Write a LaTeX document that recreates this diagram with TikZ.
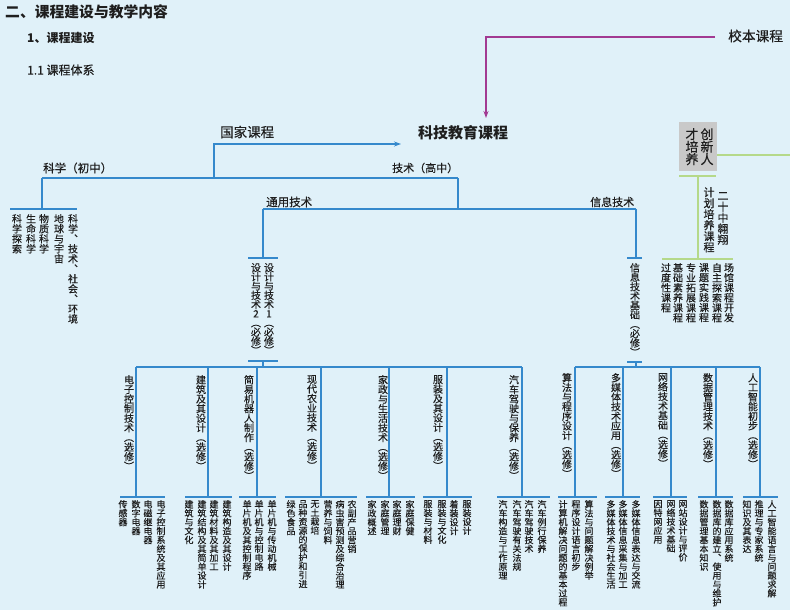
\documentclass[tikz,border=0pt]{standalone}
\usepackage{fontspec}
\setmainfont{Noto Sans CJK SC}[UprightFeatures={FakeBold=0.35}]
\usetikzlibrary{arrows.meta}
\definecolor{bg}{HTML}{E0F1F9}
\definecolor{lineblue}{HTML}{3589CC}
\definecolor{linemag}{HTML}{A23A92}
\definecolor{linegreen}{HTML}{B5D98A}
\definecolor{boxgray}{HTML}{C9C9C9}
\definecolor{ink}{HTML}{1E1E1E}
\ExplSyntaxOn
\bool_new:N \l_vc_first_bool
\NewDocumentCommand\vcol{m}
  {
    \bool_set_true:N \l_vc_first_bool
    \tl_map_inline:nn {#1}
      {
        \bool_if:NTF \l_vc_first_bool
          { \bool_set_false:N \l_vc_first_bool }
          { \\ }
        ##1
      }
  }
\ExplSyntaxOff
\begin{document}
\begin{tikzpicture}[x=1pt,y=-1pt,
  bl/.style={draw=lineblue,line width=1.1pt},
  mg/.style={draw=linemag,line width=1.1pt},
  gr/.style={draw=linegreen,line width=1.1pt},
  hlab/.style={inner sep=0pt,anchor=west,text=ink},
  vlab/.style={inner sep=0pt,anchor=north,align=center,text=ink,font=\fontsize{10}{9.6}\selectfont},
  leaf/.style={vlab,font=\fontsize{9}{8.9}\selectfont}]
\fill[bg] (0,0) rectangle (790,610);
\useasboundingbox (0,0) rectangle (790,610);
\node[hlab,font=\bfseries\fontsize{14.8}{15}\selectfont] (title) at (5,12) {二、课程建设与教学内容};
\node[hlab,font=\bfseries\fontsize{12}{12}\selectfont] (sec) at (27,38) {1、课程建设};
\node[hlab,font=\fontsize{12}{12}\selectfont] (subsec) at (27,70) {1.1 课程体系};
\node[hlab,font=\bfseries\fontsize{15}{15}\selectfont] (kj) at (418,133) {科技教育课程};
\node[hlab,font=\fontsize{13.7}{14}\selectfont] (xb) at (728,36) {校本课程};
\node[hlab,font=\fontsize{13.5}{14}\selectfont] (gj) at (220,132) {国家课程};
\node[hlab,font=\fontsize{11.5}{12}\selectfont] (kx) at (43,168) {科学（初中）};
\node[hlab,font=\fontsize{11}{12}\selectfont] (js) at (392,168) {技术（高中）};
\node[hlab,font=\fontsize{11.5}{12}\selectfont] (ty) at (266,202) {通用技术};
\node[hlab,font=\fontsize{11}{12}\selectfont] (xx) at (590,202) {信息技术};
\coordinate (xbL) at (715,37);
\coordinate (kjT) at (486,118);
\draw[mg,-{Stealth[length=7pt,width=5pt]}] (xbL) -| (kjT);
\coordinate (gjA) at (401,144);
\coordinate (kxJ) at (42,178);
\coordinate (gjJ) at (214,178);
\coordinate (jsJ) at (458,178);
\draw[bl,-{Stealth[length=7pt,width=5pt]}] (gjJ) |- (gjA);
\draw[bl] (kxJ) -- (jsJ);
\coordinate (kxB) at (42,209);
\draw[bl] (kxJ) -- (kxB);
\draw[bl] ([xshift=-32pt]kxB) -- ([xshift=35pt]kxB);
\node[vlab,font=\fontsize{10}{10}\selectfont] (sc1) at (17,214) {\vcol{科学探索}};
\node[vlab,font=\fontsize{10}{10}\selectfont] (sc2) at (31,214) {\vcol{生命科学}};
\node[vlab,font=\fontsize{10}{10}\selectfont] (sc3) at (44,214) {\vcol{物质科学}};
\node[vlab,font=\fontsize{10}{10}\selectfont] (sc4) at (59,214) {\vcol{地球与宇宙}};
\node[vlab,font=\fontsize{10}{10}\selectfont] (sc5) at (73,214) {\vcol{科学︑技术︑社会︑环境}};
\coordinate (jsB) at (458,209);
\coordinate (tyJ) at (263,209);
\coordinate (xxJ) at (636,209);
\draw[bl] (jsJ) -- (jsB);
\draw[bl] (tyJ) -- (xxJ);
\coordinate (tyB) at (263,258);
\draw[bl] (tyJ) -- (tyB);
\draw[bl] ([xshift=-15pt]tyB) -- ([xshift=15pt]tyB);
\node[vlab,font=\fontsize{10}{9.2}\selectfont] (dt2) at (256,263) {\vcol{设计与技术2︵必修︶}};
\node[vlab,font=\fontsize{10}{9.2}\selectfont] (dt1) at (269,263) {\vcol{设计与技术1︵必修︶}};
\coordinate (tyC) at (263,361);
\coordinate (tyD) at (263,367);
\draw[bl] ([xshift=-15pt]tyC) -- ([xshift=15pt]tyC);
\draw[bl] (tyC) -- (tyD);
\coordinate (ecJ) at (136,367);
\coordinate (jzJ) at (208,367);
\coordinate (jqJ) at (257,367);
\coordinate (nyJ) at (321,367);
\coordinate (jtJ) at (389,367);
\coordinate (fzJ) at (447,367);
\coordinate (qcJ) at (522,367);
\draw[bl] (ecJ) -- (qcJ);
\coordinate (ecB) at (136,497);
\coordinate (jzB) at (208,497);
\coordinate (jqB) at (257,497);
\coordinate (nyB) at (321,497);
\coordinate (jtB) at (389,497);
\coordinate (fzB) at (447,497);
\coordinate (qcB) at (522,497);
\draw[bl] (ecJ) -- (ecB);
\draw[bl] (jzJ) -- (jzB);
\draw[bl] (jqJ) -- (jqB);
\draw[bl] (nyJ) -- (nyB);
\draw[bl] (jtJ) -- (jtB);
\draw[bl] (fzJ) -- (fzB);
\draw[bl] (qcJ) -- (qcB);
\draw[bl] ([xshift=-16pt]ecB) -- ([xshift=29pt]ecB);
\draw[bl] ([xshift=-23pt]jzB) -- ([xshift=24pt]jzB);
\draw[bl] ([xshift=-18pt]jqB) -- ([xshift=19pt]jqB);
\draw[bl] ([xshift=-36pt]nyB) -- ([xshift=36pt]nyB);
\draw[bl] ([xshift=-23pt]jtB) -- ([xshift=26pt]jtB);
\draw[bl] ([xshift=-24pt]fzB) -- ([xshift=25pt]fzB);
\draw[bl] ([xshift=-25pt]qcB) -- ([xshift=28pt]qcB);
\node[vlab] (mec) at (129,375) {\vcol{电子控制技术︵选修︶}};
\node[vlab] (mjz) at (201,375) {\vcol{建筑及其设计︵选修︶}};
\node[vlab] (mjq) at (249,375) {\vcol{简易机器人制作︵选修︶}};
\node[vlab] (mny) at (312,375) {\vcol{现代农业技术︵选修︶}};
\node[vlab] (mjt) at (383,375) {\vcol{家政与生活技术︵选修︶}};
\node[vlab] (mfz) at (438,375) {\vcol{服装及其设计︵选修︶}};
\node[vlab] (mqc) at (514,375) {\vcol{汽车驾驶与保养︵选修︶}};
\node[leaf] (ec1) at (123,500) {\vcol{传感器}};
\node[leaf] (ec2) at (136,500) {\vcol{数字电器}};
\node[leaf] (ec3) at (148,500) {\vcol{电磁继电器}};
\node[leaf] (ec4) at (161,500) {\vcol{电子控制系统及其应用}};
\node[leaf] (jz1) at (189,500) {\vcol{建筑与文化}};
\node[leaf] (jz2) at (202,500) {\vcol{建筑结构及其简单设计}};
\node[leaf] (jz3) at (214,500) {\vcol{建筑材料及其加工}};
\node[leaf] (jz4) at (227,500) {\vcol{建筑构造及其设计}};
\node[leaf] (jq1) at (247,500) {\vcol{单片机及其控制程序}};
\node[leaf] (jq2) at (259,500) {\vcol{单片机与控制电路}};
\node[leaf] (jq3) at (272,500) {\vcol{单片机与传动机械}};
\node[leaf] (ny1) at (291,500) {\vcol{绿色食品}};
\node[leaf] (ny2) at (303,500) {\vcol{品种资源的保护和引进}};
\node[leaf] (ny3) at (315,500) {\vcol{无土栽培}};
\node[leaf] (ny4) at (328,500) {\vcol{营养与饲料}};
\node[leaf] (ny5) at (340,500) {\vcol{病虫害预测及综合治理}};
\node[leaf] (ny6) at (352,500) {\vcol{农副产品营销}};
\node[leaf] (jt1) at (372,500) {\vcol{家政概述}};
\node[leaf] (jt2) at (385,500) {\vcol{家庭管理}};
\node[leaf] (jt3) at (397,500) {\vcol{家庭理财}};
\node[leaf] (jt4) at (410,500) {\vcol{家庭保健}};
\node[leaf] (fz1) at (428,500) {\vcol{服装与材料}};
\node[leaf] (fz2) at (442,500) {\vcol{服装与文化}};
\node[leaf] (fz3) at (454,500) {\vcol{着装设计}};
\node[leaf] (fz4) at (467,500) {\vcol{服装设计}};
\node[leaf] (qc1) at (503,500) {\vcol{汽车构造与工作原理}};
\node[leaf] (qc2) at (517,500) {\vcol{汽车驾驶有关法规}};
\node[leaf] (qc3) at (529,500) {\vcol{汽车驾驶技术}};
\node[leaf] (qc4) at (542,500) {\vcol{汽车例行保养}};
\coordinate (xxB) at (636,258);
\draw[bl] (xxJ) -- (xxB);
\draw[bl] ([xshift=-9pt]xxB) -- ([xshift=6pt]xxB);
\node[vlab,font=\fontsize{10}{9.4}\selectfont] (xj) at (635,263) {\vcol{信息技术基础︵必修︶}};
\coordinate (xxC) at (636,362);
\coordinate (xxD) at (636,367);
\draw[bl] ([xshift=-9pt]xxC) -- ([xshift=6pt]xxC);
\draw[bl] (xxC) -- (xxD);
\coordinate (sfJ) at (575,367);
\coordinate (dmJ) at (623,367);
\coordinate (wlJ) at (671,367);
\coordinate (sjJ) at (716,367);
\coordinate (rgJ) at (760,367);
\draw[bl] (sfJ) -- (rgJ);
\coordinate (sfB) at (575,497);
\coordinate (dmB) at (623,497);
\coordinate (wlB) at (671,497);
\coordinate (sjB) at (716,497);
\coordinate (rgB) at (760,497);
\draw[bl] (sfJ) -- (sfB);
\draw[bl] (dmJ) -- (dmB);
\draw[bl] (wlJ) -- (wlB);
\draw[bl] (sjJ) -- (sjB);
\draw[bl] (rgJ) -- (rgB);
\draw[bl] ([xshift=-17pt]sfB) -- ([xshift=22pt]sfB);
\draw[bl] ([xshift=-18pt]dmB) -- ([xshift=17pt]dmB);
\draw[bl] ([xshift=-18pt]wlB) -- ([xshift=16pt]wlB);
\draw[bl] ([xshift=-18pt]sjB) -- ([xshift=17pt]sjB);
\draw[bl] ([xshift=-17pt]rgB) -- ([xshift=18pt]rgB);
\node[vlab] (msf) at (567,373) {\vcol{算法与程序设计︵选修︶}};
\node[vlab] (mdm) at (616,373) {\vcol{多媒体技术应用︵选修︶}};
\node[vlab] (mwl) at (663,373) {\vcol{网络技术基础︵选修︶}};
\node[vlab] (msj) at (708,373) {\vcol{数据管理技术︵选修︶}};
\node[vlab] (mrg) at (753,373) {\vcol{人工智能初步︵选修︶}};
\node[leaf] (sf1) at (563,500) {\vcol{计算机解决问题的基本过程}};
\node[leaf] (sf2) at (576,500) {\vcol{程序设计语言初步}};
\node[leaf] (sf3) at (589,500) {\vcol{算法与问题解决例举}};
\node[leaf] (dm1) at (611,500) {\vcol{多媒体技术与社会生活}};
\node[leaf] (dm2) at (623,500) {\vcol{多媒体信息采集与加工}};
\node[leaf] (dm3) at (636,500) {\vcol{多媒体信息表达与交流}};
\node[leaf] (wl1) at (658,500) {\vcol{因特网应用}};
\node[leaf] (wl2) at (671,500) {\vcol{网络技术基础}};
\node[leaf] (wl3) at (683,500) {\vcol{网站设计与评价}};
\node[leaf] (sj1) at (704,500) {\vcol{数据管理基本知识}};
\node[leaf] (sj2) at (717,500) {\vcol{数据库的建立︑使用与维护}};
\node[leaf] (sj3) at (729,500) {\vcol{数据库应用系统}};
\node[leaf] (rg1) at (747,500) {\vcol{知识及其表达}};
\node[leaf] (rg2) at (759,500) {\vcol{推理与专家系统}};
\node[leaf] (rg3) at (772,500) {\vcol{人工智能语言与问题求解}};
\node[fill=boxgray,minimum width=38pt,minimum height=49pt,inner sep=0pt] (cx) at (698,146.5) {};
\node[vlab,font=\fontsize{13}{12.5}\selectfont] (cx1) at (707,128) {\vcol{创新人}};
\node[vlab,font=\fontsize{13}{12.5}\selectfont] (cx2) at (692,128) {\vcol{才培养}};
\coordinate (cxR) at (790,155);
\draw[gr] (cx.east |- cxR) -- (cxR);
\coordinate (cxB) at (698,176);
\coordinate (fxB) at (698,259);
\draw[gr] ([xshift=-19pt]cxB) -- ([xshift=18pt]cxB);
\draw[gr] (cxB) -- (fxB);
\draw[gr] ([xshift=-36pt]fxB) -- ([xshift=35pt]fxB);
\node[vlab,font=\fontsize{11}{11}\selectfont] (fx1) at (723,192) {\vcol{二十中翱翔}};
\node[vlab,font=\fontsize{11}{11}\selectfont] (fx2) at (709,187) {\vcol{计划培养课程}};
\node[vlab,font=\fontsize{10}{10}\selectfont] (gs1) at (666,263) {\vcol{过度性课程}};
\node[vlab,font=\fontsize{10}{10}\selectfont] (gs2) at (678,263) {\vcol{基础素养课程}};
\node[vlab,font=\fontsize{10}{10}\selectfont] (gs3) at (691,263) {\vcol{专业拓展课程}};
\node[vlab,font=\fontsize{10}{10}\selectfont] (gs4) at (704,263) {\vcol{课题实践课程}};
\node[vlab,font=\fontsize{10}{10}\selectfont] (gs5) at (717,263) {\vcol{自主探索课程}};
\node[vlab,font=\fontsize{10}{10}\selectfont] (gs6) at (729,263) {\vcol{场馆课程开发}};
\end{tikzpicture}
\end{document}
